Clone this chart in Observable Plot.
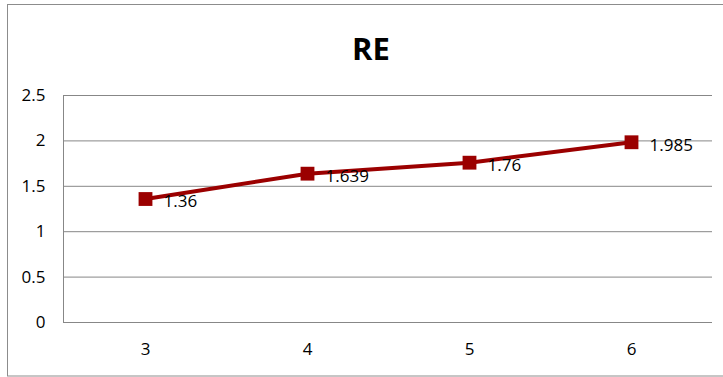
<!DOCTYPE html>
<html>
<head>
<meta charset="utf-8">
<script src="https://cdn.jsdelivr.net/npm/d3@7"></script>
<script src="https://cdn.jsdelivr.net/npm/@observablehq/plot@0.6"></script>
<style>
  html, body { margin: 0; padding: 0; background: #fff; }
  #chart { width: 723px; height: 377px; }
</style>
</head>
<body>
<div id="chart"></div>
<script>
// RE value for each category
const categories = [3, 4, 5, 6];
const reValues = [1.36, 1.639, 1.76, 1.985];
const yTicks = [0, 0.5, 1, 1.5, 2, 2.5];
const chartTitle = "RE";

const data = categories.map((c, i) => ({ cat: c, value: reValues[i] }));

const lineColor = "#9B0000";
const gridColor = "#878787";

const plot = Plot.plot({
  width: 723,
  height: 377,
  marginTop: 95,
  marginBottom: 55,
  marginLeft: 63,
  marginRight: 11,
  style: { fontFamily: "'Open Sans', sans-serif", fontSize: "17px", color: "#000", background: "#fff" },
  x: { type: "point", domain: categories, padding: 0.5, label: null },
  y: { domain: [0, 2.5], label: null },
  marks: [
    Plot.gridY(yTicks, { stroke: gridColor, strokeOpacity: 1, strokeWidth: 1 }),
    Plot.frame({ anchor: "left", stroke: gridColor, strokeWidth: 1 }),
    Plot.axisY(yTicks, { tickSize: 0, tickPadding: 18, tickFormat: d => String(d), fontSize: 17 }),
    Plot.axisX({ tickSize: 0, tickPadding: 20, fontSize: 17 }),
    Plot.line(data, { x: "cat", y: "value", stroke: lineColor, strokeWidth: 4 }),
    Plot.dot(data, { x: "cat", y: "value", symbol: "square", r: 7.8, fill: lineColor, stroke: null }),
    Plot.text(data, { x: "cat", y: "value", text: d => String(d.value), textAnchor: "start", dx: 18, dy: 3, fontSize: 17, fill: "#000" }),
    Plot.text([chartTitle], { frameAnchor: "top", dx: -17, dy: -58, fontSize: 31, fontWeight: "bold", fill: "#000" })
  ]
});

// outer chart border
d3.select(plot).append("rect")
  .attr("x", 7.5).attr("y", 4.5)
  .attr("width", 720).attr("height", 371.5)
  .attr("fill", "none").attr("stroke", "#8c8c8c").attr("stroke-width", 1);

document.getElementById("chart").appendChild(plot);
</script>
</body>
</html>
